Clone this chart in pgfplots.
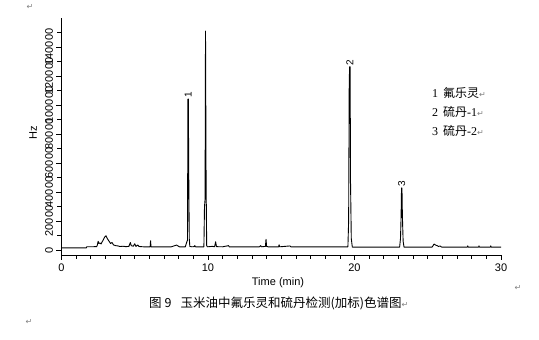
\documentclass[border=0pt]{standalone}
\usepackage{fontspec}
\setmainfont{Liberation Sans}
\newfontfamily\cjk{Noto Sans CJK SC}
\newfontfamily\serif{Liberation Serif}
\newfontfamily\dejavu{DejaVu Sans}
\usepackage{pgfplots}
\pgfplotsset{compat=1.18}
\definecolor{pmark}{RGB}{128,128,128}
\begin{document}
\begin{tikzpicture}
\path[use as bounding box] (0pt,0pt) rectangle (539pt,340pt);
\begin{axis}[
  at={(61.5pt,85pt)}, anchor=south west,
  scale only axis, width=439.5pt, height=237pt,
  xmin=0, xmax=30, ymin=-3450, ymax=160000,
  axis x line=bottom, axis y line=left,
  axis line style={-, line width=0.8pt},
  tick align=outside,
  major tick length=5pt, minor tick length=4pt,
  tick style={black, line width=0.7pt},
  xtick={0,10,20,30}, minor xtick={1,...,9,11,12,...,19,21,22,...,29},
  ytick={0,20000,40000,60000,80000,100000,120000,140000},
  minor ytick={10000,30000,50000,70000,90000,110000,130000,150000},
  scaled y ticks=false,
  yticklabel style={rotate=90, anchor=south, /pgf/number format/fixed, /pgf/number format/1000 sep={}},
  ticklabel style={font=\fontsize{11}{12}\selectfont},
  /pgf/number format/assume math mode=true,
  clip=false,
]
\addplot[black, line width=0.9pt, line join=round] coordinates {
(0,1500) (1.70,1500) (1.72,2200) (2.40,2300) (2.45,3500) (2.50,6000) (2.55,4500)
(2.62,4800) (2.70,4200) (2.85,7000) (2.95,9000) (3.04,9800) (3.12,8000) (3.25,6000)
(3.35,4500) (3.45,5200) (3.55,3500) (3.70,3000) (3.85,2800) (4.0,2400) (4.2,2600)
(4.4,2300) (4.6,2500) (4.70,5200) (4.76,3000) (4.9,2600) (5.0,4300) (5.08,2500)
(5.2,3400) (5.3,2400) (5.6,2200) (6.05,2200) (6.08,6400) (6.11,2200) (7.5,2200)
(7.85,3400) (7.95,2800) (8.05,2200) (8.45,2200) (8.58,6400) (8.60,6400)
(8.63,104100) (8.66,104100) (8.68,60700) (8.72,8000) (8.76,2500) (8.9,2200) (9.05,2300) (9.1,3000)
(9.15,2200) (9.72,2200) (9.76,29700) (9.80,35000) (9.83,151000) (9.87,46900)
(9.91,3000) (9.96,2200) (10.3,2500) (10.45,2200) (10.52,5700) (10.58,2300)
(11.0,2200) (11.4,3000) (11.45,2200) (13.5,2200) (13.6,3000) (13.65,2200)
(13.92,2500) (13.96,7400) (14.0,2500) (14.1,2200) (14.82,2200) (14.85,3600) (14.9,2200)
(15.6,2800) (15.65,2200) (19.55,2200) (19.60,20000) (19.64,116000) (19.67,126400) (19.70,126400)
(19.73,46000) (19.78,8000) (19.85,2000) (23.08,2000) (23.14,8000) (23.18,23000)
(23.21,42800) (23.24,42800) (23.27,23000) (23.32,6000) (23.38,2000) (25.30,2000) (25.43,4100)
(25.55,3300) (25.65,3000) (25.72,2500) (25.85,2700) (25.95,2000) (27.70,2000)
(27.73,2900) (27.76,2000) (28.47,2000) (28.5,2900) (28.53,2000) (29.27,2000)
(29.3,2900) (29.33,2000) (30,2000)
};
\node[rotate=90, anchor=west, inner sep=1pt, font=\fontsize{10}{11}\selectfont] at (axis cs:8.645,104100) {1};
\node[rotate=90, anchor=west, inner sep=1pt, font=\fontsize{10}{11}\selectfont] at (axis cs:19.685,126400) {2};
\node[rotate=90, anchor=west, inner sep=1pt, font=\fontsize{10}{11}\selectfont] at (axis cs:23.225,42800) {3};
\end{axis}
% axis titles
\node[rotate=90, font=\fontsize{11}{12}\selectfont] at (33pt,207pt) {Hz};
\node[font=\fontsize{11}{12}\selectfont] at (278pt,57pt) {Time (min)};
% legend text
\node[anchor=west, inner sep=0pt, font=\fontsize{12}{13}\selectfont] at (432pt,247pt) {{\serif 1}\hspace{5pt}{\cjk 氟乐灵}{\dejavu\fontsize{8}{9}\selectfont\color{pmark}↵}};
\node[anchor=west, inner sep=0pt, font=\fontsize{12}{13}\selectfont] at (432pt,228pt) {{\serif 2}\hspace{5pt}{\cjk 硫丹}{\serif -1}{\dejavu\fontsize{8}{9}\selectfont\color{pmark}↵}};
\node[anchor=west, inner sep=0pt, font=\fontsize{12}{13}\selectfont] at (432pt,209pt) {{\serif 3}\hspace{5pt}{\cjk 硫丹}{\serif -2}{\dejavu\fontsize{8}{9}\selectfont\color{pmark}↵}};
% caption
\node[anchor=west, inner sep=0pt, font=\fontsize{12.5}{13}\selectfont] at (149pt,37pt) {{\cjk 图\hspace{3pt}9\hspace{9pt}玉米油中氟乐灵和硫丹检测(加标)色谱图}{\dejavu\fontsize{8}{9}\selectfont\color{pmark}↵}};
% paragraph marks
\node[font=\dejavu\fontsize{8}{9}\selectfont, text=pmark] at (30pt,333pt) {↵};
\node[font=\dejavu\fontsize{8}{9}\selectfont, text=pmark] at (518pt,52pt) {↵};
\node[font=\dejavu\fontsize{8}{9}\selectfont, text=pmark] at (29pt,18pt) {↵};
\end{tikzpicture}
\end{document}
